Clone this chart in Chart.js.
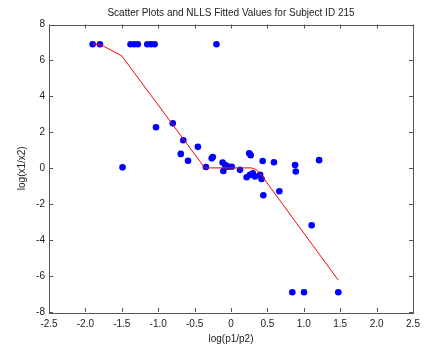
<!DOCTYPE html>
<html><head><meta charset="utf-8">
<script src="https://cdn.jsdelivr.net/npm/chart.js@4/dist/chart.umd.min.js"></script>
<style>html,body{margin:0;padding:0;background:#fff}#wrap{width:435px;height:350px}</style>
</head><body><div id="wrap"><canvas id="c" width="435" height="350"></canvas></div>
<script>
const titleText = 'Scatter Plots and NLLS Fitted Values for Subject ID 215';
const xLabel = 'log(p1/p2)';
const yLabel = 'log(x1/x2)';
const xTicks = [-2.5,-2,-1.5,-1,-0.5,0,0.5,1,1.5,2,2.5];
const yTicks = [-8,-6,-4,-2,0,2,4,6,8];
const scatterX = [-1.9,-1.8,-1.38,-1.33,-1.28,-1.15,-1.1,-1.05,-0.2,
  -1.49,-1.03,-0.80,-0.655,-0.69,-0.59,-0.455,-0.345,-0.265,-0.25,
  -0.115,-0.105,-0.08,-0.04,0.01,0.124,0.25,0.27,0.215,0.26,0.30,0.33,0.40,0.42,
  0.435,0.59,0.444,0.664,0.88,0.89,1.21,1.108,0.842,1.003,1.474];
const scatterY = [6.9,6.9,6.9,6.9,6.9,6.9,6.9,6.9,6.9,
  0.05,2.28,2.5,1.56,0.8,0.42,1.19,0.07,0.55,0.62,
  0.32,-0.15,0.18,0.09,0.08,-0.09,0.83,0.72,-0.5,-0.37,-0.28,-0.46,-0.37,-0.6,
  0.4,0.33,-1.5,-1.28,0.18,-0.18,0.45,-3.17,-6.9,-6.9,-6.9];
const fitX = [-1.9,-1.8,-1.5,-0.36,0.28,0.35,0.42,1.474];
const fitY = [6.9,6.9,6.25,0.02,0.02,-0.08,-0.4,-6.23];

const FONT = 'Liberation Sans, Arial, sans-serif';

const boxPlugin = {
  id:'box',
  afterDraw(chart){
    const {ctx, chartArea:a, scales:{x,y}} = chart;
    ctx.save();
    ctx.strokeStyle='#555'; ctx.lineWidth=1;
    ctx.strokeRect(Math.round(a.left)+0.5, Math.round(a.top)+0.5, Math.round(a.right-a.left), Math.round(a.bottom-a.top));
    ctx.beginPath();
    const L=4;
    xTicks.forEach(v=>{const p=Math.round(x.getPixelForValue(v))+0.5;
      ctx.moveTo(p,a.bottom);ctx.lineTo(p,a.bottom-L);ctx.moveTo(p,a.top);ctx.lineTo(p,a.top+L);});
    yTicks.forEach(v=>{const p=Math.round(y.getPixelForValue(v))+0.5;
      ctx.moveTo(a.left,p);ctx.lineTo(a.left+L,p);ctx.moveTo(a.right,p);ctx.lineTo(a.right-L,p);});
    ctx.stroke();
    ctx.fillStyle='#222';
    ctx.font='10px '+FONT;
    ctx.textAlign='center'; ctx.textBaseline='middle';
    ctx.fillText(titleText, (a.left+a.right)/2, 13);
    ctx.restore();
  }
};

new Chart(document.getElementById('c'), {
  type:'scatter',
  data:{datasets:[
    {label:'fit', data:fitX.map((v,i)=>({x:v,y:fitY[i]})), showLine:true, borderColor:'#ff0000', borderWidth:1, pointRadius:0, fill:false, order:0},
    {label:'obs', data:scatterX.map((v,i)=>({x:v,y:scatterY[i]})), backgroundColor:'#0000ff', borderColor:'#0000ff', pointRadius:3.3, borderWidth:0, order:1}
  ]},
  options:{
    responsive:false, animation:false, devicePixelRatio:1,
    layout:{padding:{left:0,right:22,top:24.5,bottom:0}},
    plugins:{ legend:{display:false}, tooltip:{enabled:false}, title:{display:false} },
    scales:{
      x:{type:'linear', min:-2.5, max:2.5,
        afterBuildTicks(s){s.ticks = xTicks.map(v=>({value:v}));},
        afterFit(s){s.height=38;},
        grid:{display:true, drawOnChartArea:false, drawTicks:false},
        border:{display:false},
        ticks:{color:'#222', padding:6, maxRotation:0, autoSkip:false, font:{family:FONT, size:10}},
        title:{display:true, text:xLabel, color:'#222', padding:{top:2,bottom:5}, font:{family:FONT, size:10}}
      },
      y:{type:'linear', min:-8, max:8,
        afterBuildTicks(s){s.ticks = yTicks.map(v=>({value:v}));},
        afterFit(s){s.width=49;},
        grid:{display:true, drawOnChartArea:false, drawTicks:false},
        border:{display:false},
        ticks:{color:'#222', padding:4, autoSkip:false, font:{family:FONT, size:10}},
        title:{display:true, text:yLabel, color:'#222', padding:{top:16,bottom:6}, font:{family:FONT, size:10}}
      }
    }
  },
  plugins:[boxPlugin]
});
</script></body></html>
